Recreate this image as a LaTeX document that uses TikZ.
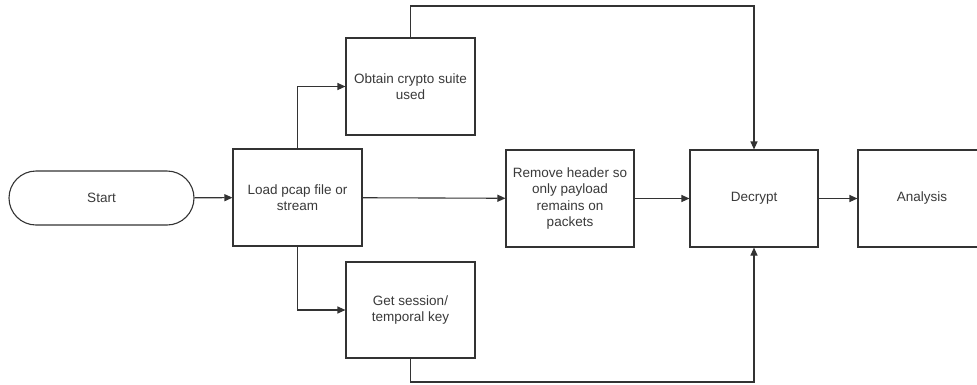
\documentclass[tikz,border=0pt]{standalone}
\usepackage{fontspec}
\setmainfont{Liberation Sans}
\usetikzlibrary{arrows.meta,calc}
\definecolor{lineg}{HTML}{333333}
\definecolor{textg}{HTML}{3A3A3A}
\begin{document}
\begin{tikzpicture}[x=1pt,y=-1pt,
  every node/.style={font=\fontsize{13.5}{16.3}\selectfont, text=textg, align=center},
  procbox/.style={draw=lineg, line width=1.1pt, fill=white, rectangle, minimum width=128pt, minimum height=97pt, inner sep=2pt},
  termbox/.style={draw=lineg, line width=1.1pt, fill=white, rectangle, rounded corners=27pt, minimum width=185pt, minimum height=54pt},
  conn/.style={draw=lineg, line width=1.1pt},
  arr/.style={conn, -{Triangle[length=8pt,width=7pt]}}]
\useasboundingbox (0,0) rectangle (977,384);
\node[termbox] (start) at (101.5,198) {Start};
\node[procbox, minimum width=129pt] (load) at (297.5,197.5) {Load pcap file or\\stream};
\node[procbox, minimum width=129pt] (crypto) at (410.5,86.5) {Obtain crypto suite\\used};
\node[procbox, minimum width=129pt, minimum height=96pt] (session) at (410.5,310) {Get session/\\temporal key};
\node[procbox] (remove) at (570,198.5) {Remove header so\\only payload\\remains on\\packets};
\node[procbox] (decrypt) at (754,198.5) {Decrypt};
\node[procbox] (analysis) at (922,198.5) {Analysis};
\coordinate (top) at (0,6);
\coordinate (bot) at (0,382);
\draw[arr] (start) -- (load);
\draw[arr] (load.north) |- (crypto.west);
\draw[arr] (load.south) |- (session.west);
\draw[arr] (load) -- (remove);
\draw[arr] (remove) -- (decrypt);
\draw[arr] (decrypt) -- (analysis);
\draw[arr] (crypto.north) |- (top -| decrypt.north) -- (decrypt.north);
\draw[arr] (session.south) |- (bot -| decrypt.south) -- (decrypt.south);
\end{tikzpicture}
\end{document}
